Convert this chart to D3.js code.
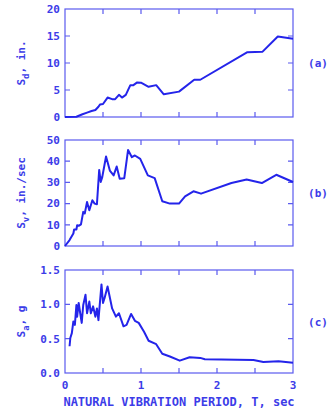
<!DOCTYPE html>
<html>
<head>
<meta charset="utf-8">
<script src="https://cdn.jsdelivr.net/npm/d3@7"></script>
<style>
  body { margin: 0; background: #fff; }
  text { font-family: "DejaVu Sans Mono", monospace; fill: #3c3ce8; }
</style>
</head>
<body>
<div id="chart"></div>
<script>
// period T (sec) and spectral values
const periodSd = [0, 0.15, 0.23, 0.29, 0.35, 0.4, 0.44, 0.46, 0.5, 0.56, 0.62, 0.66, 0.71, 0.75, 0.8, 0.86, 0.9, 0.95, 1.0, 1.1, 1.2, 1.3, 1.5, 1.7, 1.78, 2.4, 2.6, 2.8, 3.0]
const valuesSd = [0, 0.05, 0.5, 0.8, 1.1, 1.3, 1.9, 2.3, 2.4, 3.6, 3.3, 3.3, 4.1, 3.6, 4.1, 5.9, 5.9, 6.4, 6.35, 5.6, 5.9, 4.2, 4.7, 6.9, 6.9, 12, 12.1, 14.9, 14.5]

const periodSv = [0, 0.06, 0.11, 0.12, 0.15, 0.16, 0.18, 0.21, 0.24, 0.26, 0.29, 0.32, 0.36, 0.39, 0.42, 0.45, 0.47, 0.49, 0.54, 0.59, 0.64, 0.68, 0.72, 0.78, 0.83, 0.88, 0.92, 0.99, 1.09, 1.18, 1.28, 1.38, 1.5, 1.58, 1.69, 1.79, 2.19, 2.39, 2.59, 2.78, 3.0]
const valuesSv = [0, 2.8, 5.9, 7.8, 7.8, 9.8, 9.5, 10.2, 16.1, 15.3, 20.8, 16.9, 21.6, 20, 19.7, 35.9, 30.2, 32.5, 42.2, 35.6, 33.3, 37.5, 31.7, 32, 45.3, 41.9, 42.7, 41.1, 33.3, 32, 21.1, 20, 20, 23.4, 25.8, 24.7, 29.7, 31.4, 29.7, 33.6, 30.2]

const periodSa = [0.06, 0.07, 0.09, 0.11, 0.13, 0.15, 0.16, 0.18, 0.2, 0.22, 0.24, 0.27, 0.29, 0.32, 0.34, 0.37, 0.4, 0.42, 0.44, 0.48, 0.5, 0.52, 0.56, 0.62, 0.67, 0.71, 0.77, 0.81, 0.87, 0.92, 0.97, 1.04, 1.1, 1.2, 1.28, 1.38, 1.51, 1.64, 1.78, 1.84, 2.48, 2.61, 2.81, 3.0]
const valuesSa = [0.39, 0.51, 0.58, 0.75, 0.7, 0.99, 0.82, 1.02, 0.87, 0.73, 0.99, 1.14, 0.87, 1.04, 0.87, 0.97, 0.82, 0.94, 0.77, 1.29, 1.02, 1.09, 1.26, 0.94, 0.82, 0.87, 0.68, 0.7, 0.86, 0.76, 0.73, 0.6, 0.47, 0.42, 0.28, 0.24, 0.18, 0.23, 0.22, 0.2, 0.19, 0.16, 0.17, 0.15]

const xTickLabels = [0, 1, 2, 3]

const panels = [
  { id: "(a)", sub: "d", rest: ", in.", T: periodSd, v: valuesSd, max: 20, step: 5, fmt: d3.format("d"), top: 9, bottom: 117 },
  { id: "(b)", sub: "v", rest: ", in./sec", T: periodSv, v: valuesSv, max: 50, step: 10, fmt: d3.format("d"), top: 140, bottom: 246 },
  { id: "(c)", sub: "a", rest: ", g", T: periodSa, v: valuesSa, max: 1.5, step: 0.5, fmt: d3.format(".1f"), top: 270, bottom: 373 }
]

const blue = "#2424ea"
const frameBlue = "#5a5aee"
const left = 65, right = 293

const svg = d3.select("#chart").append("svg")
  .attr("width", 327)
  .attr("height", 410)

const x = d3.scaleLinear().domain([0, 3]).range([left, right])

panels.forEach(function(p, i) {
  const y = d3.scaleLinear().domain([0, p.max]).range([p.bottom, p.top])
  const g = svg.append("g")

  const yTicks = d3.range(0, p.max + p.step / 2, p.step)
  const xTicks = d3.range(0, 3.01, 0.5)

  // frame
  g.append("rect")
    .attr("x", left).attr("y", p.top)
    .attr("width", right - left).attr("height", p.bottom - p.top)
    .attr("fill", "none").attr("stroke", frameBlue).attr("stroke-width", 1.2)

  // inward ticks
  g.selectAll(".yt").data(yTicks.slice(1, -1)).enter().append("path")
    .attr("d", d => `M${left},${y(d)}h5M${right},${y(d)}h-5`)
    .attr("stroke", frameBlue).attr("stroke-width", 1.2)
  g.selectAll(".xt").data(xTicks.slice(1, -1)).enter().append("path")
    .attr("d", d => `M${x(d)},${p.top}v5M${x(d)},${p.bottom}v-5`)
    .attr("stroke", frameBlue).attr("stroke-width", 1.2)

  // tick labels
  g.selectAll(".yl").data(yTicks).enter().append("text")
    .attr("x", left - 5).attr("y", d => y(d))
    .attr("dy", "0.35em")
    .attr("text-anchor", "end")
    .attr("font-size", 11).attr("font-weight", "bold")
    .text(d => p.fmt(d))

  // y title
  const t = g.append("text")
    .attr("transform", `translate(25,${(p.top + p.bottom) / 2}) rotate(-90)`)
    .attr("text-anchor", "middle")
    .attr("font-size", 11).attr("font-weight", "bold")
  t.append("tspan").text("S")
  t.append("tspan").attr("dy", 4).attr("font-size", 9).text(p.sub)
  t.append("tspan").attr("dy", -4).text(p.rest)

  // panel id
  g.append("text")
    .attr("x", 318).attr("y", (p.top + p.bottom) / 2 + 4)
    .attr("text-anchor", "middle")
    .attr("font-size", 11).attr("font-weight", "bold")
    .text(p.id)

  // the spectrum
  g.append("path")
    .datum(d3.zip(p.T, p.v))
    .attr("fill", "none")
    .attr("stroke", blue)
    .attr("stroke-width", 2)
    .attr("stroke-linejoin", "round")
    .attr("d", d3.line()
      .x(d => x(d[0]))
      .y(d => y(d[1])))

  if (i === 2) {
    g.selectAll(".xl").data(xTickLabels).enter().append("text")
      .attr("x", d => x(d)).attr("y", p.bottom + 16)
      .attr("text-anchor", "middle")
      .attr("font-size", 11).attr("font-weight", "bold")
      .text(d => d)
    g.append("text")
      .attr("x", (left + right) / 2).attr("y", 406)
      .attr("text-anchor", "middle")
      .attr("font-size", 12).attr("font-weight", "bold")
      .text("NATURAL VIBRATION PERIOD, T, sec")
  }
})
</script>
</body>
</html>
